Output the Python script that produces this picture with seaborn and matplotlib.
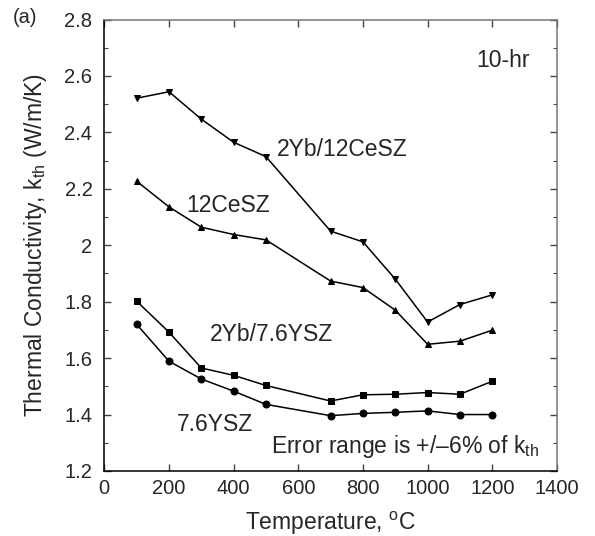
import matplotlib
matplotlib.use("Agg")
import matplotlib.pyplot as plt
from matplotlib.ticker import MultipleLocator
import numpy as np
import pandas as pd
import seaborn as sns

# ----------------------------
# Data
# ----------------------------
temperature = [100, 200, 300, 400, 500, 700, 800, 900, 1000, 1100, 1200]

k_2yb_12cesz = [2.521, 2.544, 2.447, 2.365, 2.314, 2.050, 2.012, 1.880, 1.728, 1.790, 1.824]
k_12cesz = [2.227, 2.136, 2.064, 2.038, 2.019, 1.873, 1.850, 1.770, 1.649, 1.660, 1.699]
k_2yb_76ysz = [1.802, 1.692, 1.565, 1.539, 1.503, 1.448, 1.470, 1.472, 1.478, 1.472, 1.518]
k_76ysz = [1.720, 1.589, 1.526, 1.483, 1.436, 1.396, 1.404, 1.408, 1.413, 1.400, 1.400]

series_names = ["2Yb/12CeSZ", "12CeSZ", "2Yb/7.6YSZ", "7.6YSZ"]
series_values = [k_2yb_12cesz, k_12cesz, k_2yb_76ysz, k_76ysz]
series_markers = ["v", "^", "s", "o"]

x_ticks = [0, 200, 400, 600, 800, 1000, 1200, 1400]
y_ticks = [1.2, 1.4, 1.6, 1.8, 2.0, 2.2, 2.4, 2.6, 2.8]
y_tick_labels = ["1.2", "1.4", "1.6", "1.8", "2", "2.2", "2.4", "2.6", "2.8"]


def main():
    sns.set_style("ticks")
    plt.rcParams["font.family"] = ["Liberation Sans", "DejaVu Sans"]
    plt.rcParams["mathtext.fontset"] = "custom"
    plt.rcParams["mathtext.rm"] = "Liberation Sans"
    plt.rcParams["mathtext.it"] = "Liberation Sans"

    df = pd.DataFrame(
        {
            "Temperature": np.tile(temperature, len(series_names)),
            "k": np.concatenate(series_values),
            "sample": np.repeat(series_names, len(temperature)),
        }
    )

    fig = plt.figure(figsize=(5.95, 5.36), dpi=100)
    ax = fig.add_axes([0.1753, 0.1213, 0.7607, 0.8423])

    sns.lineplot(
        data=df,
        x="Temperature",
        y="k",
        hue="sample",
        style="sample",
        palette=["black"] * len(series_names),
        markers=dict(zip(series_names, series_markers)),
        dashes=False,
        markersize=5,
        markeredgecolor="black",
        linewidth=1.1,
        legend=False,
        ax=ax,
    )

    ax.set_xlim(0, 1400)
    ax.set_ylim(1.2, 2.8)
    ax.set_xticks(x_ticks)
    ax.set_yticks(y_ticks)
    ax.set_yticklabels(y_tick_labels)
    ax.yaxis.set_minor_locator(MultipleLocator(0.1))
    ax.tick_params(which="both", direction="in", top=True, right=True,
                   labelsize=14.5, color="#444444")
    ax.tick_params(axis="y", pad=8.5)
    ax.tick_params(axis="x", pad=6)
    ax.tick_params(which="major", length=5, width=1)
    ax.tick_params(which="minor", length=3, width=0.8)
    for side in ["left", "bottom"]:
        ax.spines[side].set_color("black")
    for side in ["top", "right"]:
        ax.spines[side].set_color("#777777")
    for sp in ax.spines.values():
        sp.set_linewidth(1.1)

    ax.set_xlabel("Temperature, $\\mathregular{^{o}}$C", fontsize=16.5, labelpad=8)
    ax.set_ylabel("Thermal Conductivity, k$\\mathregular{_{th}}$ (W/m/K)",
                  fontsize=16.5, labelpad=11)

    # in-plot annotations
    fs = 16.5
    ax.text(1150, 2.633, "10-hr", fontsize=fs, ha="left", va="baseline")
    ax.text(535, 2.316, "2Yb/12CeSZ", fontsize=fs, ha="left", va="baseline")
    ax.text(255, 2.118, "12CeSZ", fontsize=fs, ha="left", va="baseline")
    ax.text(328, 1.660, "2Yb/7.6YSZ", fontsize=fs, ha="left", va="baseline")
    ax.text(223, 1.341, "7.6YSZ", fontsize=fs, ha="left", va="baseline")
    ax.text(1345, 1.263, "Error range is +/\u20136% of k$\\mathregular{_{th}}$",
            fontsize=fs, ha="right", va="baseline")

    fig.text(0.022, 0.968, "(a)", fontsize=14.5, ha="left", va="center")

    fig.savefig("out.png", dpi=100)


if __name__ == "__main__":
    main()
